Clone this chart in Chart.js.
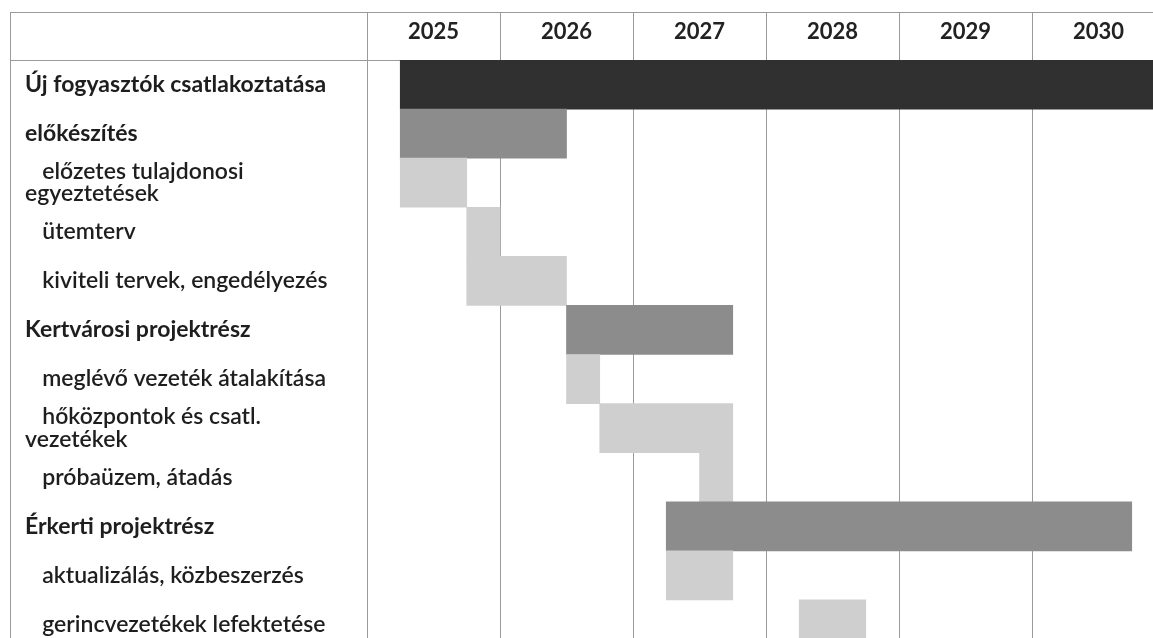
<!DOCTYPE html>
<html>
<head>
<meta charset="utf-8">
<script src="https://cdn.jsdelivr.net/npm/chart.js@4/dist/chart.umd.min.js"></script>
<style>
  html, body { margin: 0; padding: 0; background: #fff; overflow: hidden; }
  #wrap { position: relative; width: 1170px; height: 660px; }
</style>
</head>
<body>
<div id="wrap"><canvas id="c" width="1170" height="660"></canvas></div>
<script>
// ---- data ----
const tasks = [
  'Új fogyasztók csatlakoztatása',
  'előkészítés',
  ['\u2003előzetes tulajdonosi', 'egyeztetések'],
  '\u2003ütemterv',
  '\u2003kiviteli tervek, engedélyezés',
  'Kertvárosi projektrész',
  '\u2003meglévő vezeték átalakítása',
  ['\u2003hőközpontok és csatl.', 'vezetékek'],
  '\u2003próbaüzem, átadás',
  'Érkerti projektrész',
  '\u2003aktualizálás, közbeszerzés',
  '\u2003gerincvezetékek lefektetése'
];
const levels = [0, 1, 2, 2, 2, 1, 2, 2, 2, 1, 2, 2];
const starts = [2025.25, 2025.25, 2025.25, 2025.75, 2025.75, 2026.5, 2026.5, 2026.75, 2027.5, 2027.25, 2027.25, 2028.25];
const ends   = [2031.0, 2026.5, 2025.75, 2026.0, 2026.5, 2027.75, 2026.75, 2027.75, 2027.75, 2030.75, 2027.75, 2028.75];
const years = [2025, 2026, 2027, 2028, 2029, 2030];

// ---- style ----
const levelColors = ['#303030', '#8c8c8c', '#cfcfcf'];
const FONT = 'Lato, "Open Sans", sans-serif';
const lineColor = '#9a9a9a';

const framePlugin = {
  id: 'frame',
  afterDraw(chart) {
    const ctx = chart.ctx;
    const ca = chart.chartArea;
    const xs = chart.scales.x;
    const left = 10;
    ctx.save();
    ctx.strokeStyle = lineColor;
    ctx.lineWidth = 1;
    ctx.beginPath();
    ctx.moveTo(left, xs.top + 0.5); ctx.lineTo(chart.width, xs.top + 0.5);
    ctx.moveTo(left, ca.top + 0.5); ctx.lineTo(ca.left, ca.top + 0.5);
    ctx.moveTo(left + 0.5, xs.top); ctx.lineTo(left + 0.5, chart.height);
    ctx.stroke();
    ctx.restore();
  }
};

new Chart(document.getElementById('c'), {
  type: 'bar',
  data: {
    labels: tasks,
    datasets: [{
      data: starts.map((s, i) => [s, ends[i]]),
      backgroundColor: levels.map(l => levelColors[l]),
      borderWidth: 0,
      borderSkipped: false,
      barPercentage: 1,
      categoryPercentage: 1
    }]
  },
  options: {
    indexAxis: 'y',
    responsive: false,
    animation: false,
    layout: { padding: { left: 25, top: 12, right: 5, bottom: 0 } },
    plugins: { legend: { display: false }, tooltip: { enabled: false } },
    scales: {
      x: {
        type: 'linear',
        position: 'top',
        min: years[0],
        max: years[years.length - 1] + 1,
        afterBuildTicks(scale) {
          scale.ticks = years.concat([years[years.length - 1] + 1]).map(v => ({ value: v }));
        },
        afterFit(scale) { scale.height = 48; },
        grid: { color: lineColor, lineWidth: 1, tickLength: 48, drawTicks: true },
        border: { display: true, color: lineColor },
        ticks: {
          labelOffset: 66.5,
          padding: -31,
          maxRotation: 0,
          autoSkip: false,
          color: '#222',
          font: { family: FONT, size: 22, weight: 'bold', lineHeight: 1.0 },
          callback: (v) => years.includes(v) ? String(v) : ''
        }
      },
      y: {
        afterFit(scale) { scale.width = 342; },
        grid: { display: false },
        border: { display: false },
        ticks: {
          crossAlign: 'far',
          padding: 0,
          autoSkip: false,
          color: '#1e1e1e',
          font: (ctx) => ({ family: FONT, size: 23, lineHeight: 0.96, weight: levels[ctx.index] < 2 ? 'bold' : '600' })
        }
      }
    }
  },
  plugins: [framePlugin]
});
</script>
</body>
</html>
